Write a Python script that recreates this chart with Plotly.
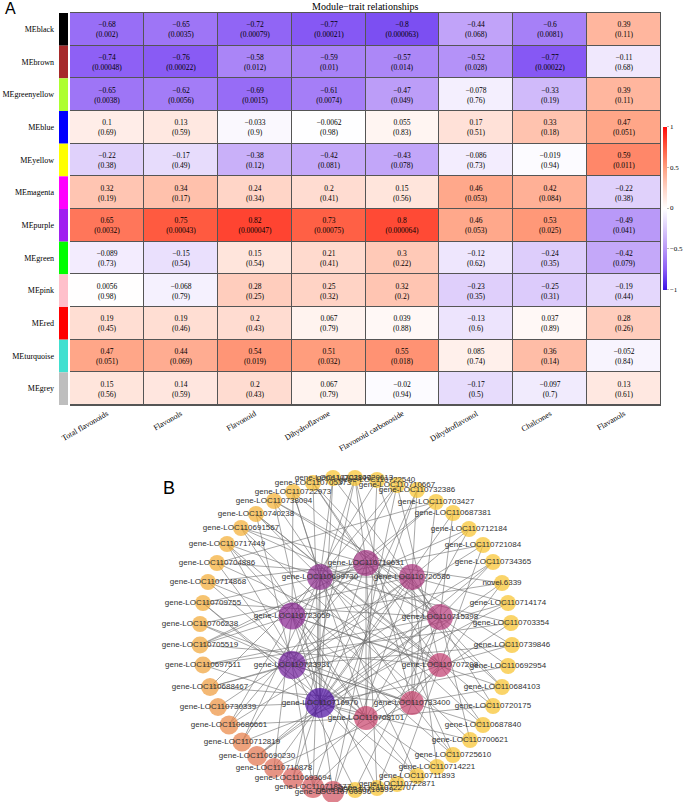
import numpy as np
import plotly.graph_objects as go

W, H = 685, 802

# ---------------- Panel A data ----------------
traits = ["Total flavonoids", "Flavonols", "Flavonoid", "Dihydroflavone",
          "Flavonoid carbonoside", "Dihydroflavonol", "Chalcones", "Flavanols"]
modules = ["MEblack", "MEbrown", "MEgreenyellow", "MEblue", "MEyellow", "MEmagenta",
           "MEpurple", "MEgreen", "MEpink", "MEred", "MEturquoise", "MEgrey"]
module_colors = ["#000000", "#A52A2A", "#ADFF2F", "#0000FF", "#FFFF00", "#FF00FF",
                 "#A020F0", "#00FF00", "#FFC0CB", "#FF0000", "#40E0D0", "#BEBEBE"]
cor = [
    [-0.68, -0.65, -0.72, -0.77, -0.8, -0.44, -0.6, 0.39],
    [-0.74, -0.76, -0.58, -0.59, -0.57, -0.52, -0.77, -0.11],
    [-0.65, -0.62, -0.69, -0.61, -0.47, -0.078, -0.33, 0.39],
    [0.1, 0.13, -0.033, -0.0062, 0.055, 0.17, 0.33, 0.47],
    [-0.22, -0.17, -0.38, -0.42, -0.43, -0.086, -0.019, 0.59],
    [0.32, 0.34, 0.24, 0.2, 0.15, 0.46, 0.42, -0.22],
    [0.65, 0.75, 0.82, 0.73, 0.80, 0.46, 0.53, -0.49],
    [-0.089, -0.15, 0.15, 0.21, 0.3, -0.12, -0.24, -0.42],
    [0.0056, -0.068, 0.28, 0.25, 0.32, -0.23, -0.25, -0.19],
    [0.19, 0.19, 0.2, 0.067, 0.039, -0.13, 0.037, 0.28],
    [0.47, 0.44, 0.54, 0.51, 0.55, 0.085, 0.36, -0.052],
    [0.15, 0.14, 0.2, 0.067, -0.02, -0.17, -0.097, 0.13],
]
pval = [
    [0.002, 0.0035, 0.00079, 0.00021, 0.000063, 0.068, 0.0081, 0.11],
    [0.00048, 0.00022, 0.012, 0.01, 0.014, 0.028, 0.00022, 0.68],
    [0.0038, 0.0056, 0.0015, 0.0074, 0.049, 0.76, 0.19, 0.11],
    [0.69, 0.59, 0.9, 0.98, 0.83, 0.51, 0.18, 0.051],
    [0.38, 0.49, 0.12, 0.081, 0.078, 0.73, 0.94, 0.011],
    [0.19, 0.17, 0.34, 0.41, 0.56, 0.053, 0.084, 0.38],
    [0.0032, 0.00043, 0.000047, 0.00075, 0.000064, 0.053, 0.025, 0.041],
    [0.73, 0.54, 0.54, 0.41, 0.22, 0.62, 0.35, 0.079],
    [0.98, 0.79, 0.25, 0.32, 0.2, 0.35, 0.31, 0.44],
    [0.45, 0.46, 0.43, 0.79, 0.88, 0.6, 0.89, 0.26],
    [0.051, 0.069, 0.019, 0.032, 0.018, 0.74, 0.14, 0.84],
    [0.56, 0.59, 0.43, 0.79, 0.94, 0.5, 0.7, 0.61],
]

# ---------------- Panel B data ----------------
outer_names = [
    "gene-LOC110705373", "gene-LOC110722973", "gene-LOC110738094", "gene-LOC110740238",
    "gene-LOC110691567", "gene-LOC110717449", "gene-LOC110704886", "gene-LOC110714868",
    "gene-LOC110709755", "gene-LOC110706238", "gene-LOC110705519", "gene-LOC110697511",
    "gene-LOC110688467", "gene-LOC110730339", "gene-LOC110686661", "gene-LOC110712819",
    "gene-LOC110690230", "gene-LOC110710878", "gene-LOC110693694", "gene-LOC110718577",
    "gene-LOC110700996",
    "gene-LOC110710599", "gene-LOC110722707", "gene-LOC110722871", "gene-LOC110711893",
    "gene-LOC110714221", "gene-LOC110725610", "gene-LOC110700621", "gene-LOC110687840",
    "gene-LOC110720175", "gene-LOC110684103", "gene-LOC110692954", "gene-LOC110739846",
    "gene-LOC110703354", "gene-LOC110714174", "novel.6339", "gene-LOC110734365",
    "gene-LOC110721084", "gene-LOC110712184", "gene-LOC110687381", "gene-LOC110703427",
    "gene-LOC110732386", "gene-LOC110710667", "gene-LOC110722540", "gene-LOC110720613",
    "gene-LOC110703840",
]
outer_x = [313, 293, 274, 256, 241, 227, 217, 208, 203, 200, 200, 203, 210, 218, 229, 242,
           257, 274, 293, 313, 333,
           355, 377, 397, 417, 437, 453, 470, 483, 493, 502, 508, 512, 511, 508, 502, 493,
           483, 469, 453, 436, 417, 397, 377, 355, 333]
outer_y = [483, 492, 501, 514, 528, 544, 563, 582, 603, 624, 645, 665, 687, 707, 725, 742,
           756, 768, 778, 787, 792,
           790, 788, 784, 776, 767, 755, 740, 725, 706, 687, 666, 645, 623, 603, 583, 562,
           545, 529, 513, 502, 490, 485, 480, 478, 478]

hub_names = ["gene-LOC110699730", "gene-LOC110719631", "gene-LOC110720586",
             "gene-LOC110715398", "gene-LOC110707208", "gene-LOC110733400",
             "gene-LOC110708101", "gene-LOC110716970", "gene-LOC110723931",
             "gene-LOC110723059"]
hub_x = [320, 366, 412, 440, 440, 412, 366, 320, 292, 292]
hub_y = [577, 563, 577, 617, 665, 703, 718, 703, 665, 616]

# edges: hub index -> outer node indices
hub_links = [
    [1, 3, 5, 8, 12, 15, 19, 24, 28, 33, 37, 42, 45],
    [0, 4, 7, 10, 14, 18, 22, 26, 30, 35, 40, 44],
    [2, 6, 9, 13, 17, 20, 25, 29, 34, 38, 41, 43],
    [1, 4, 8, 11, 16, 21, 27, 31, 36, 39, 45],
    [0, 3, 6, 10, 15, 19, 23, 28, 32, 37, 42],
    [2, 5, 9, 12, 17, 22, 26, 30, 35, 40, 44],
    [1, 4, 7, 11, 14, 18, 24, 29, 33, 38, 43],
    [0, 2, 5, 8, 13, 16, 20, 23, 27, 31, 34, 36, 39, 41, 45],
    [3, 6, 9, 12, 15, 19, 21, 25, 28, 32, 37, 42, 44],
    [1, 5, 7, 10, 14, 17, 22, 26, 30, 35, 40, 43],
]
hub_hub = [(0, 1), (0, 4), (0, 7), (1, 3), (1, 6), (2, 5), (2, 8), (3, 7),
           (4, 9), (5, 8), (6, 9), (7, 9), (0, 2), (3, 5)]
outer_outer = [(14, 36), (10, 38), (2, 32), (6, 40), (20, 42), (12, 34), (18, 44),
               (0, 30), (4, 27), (8, 24), (16, 35), (11, 33), (3, 29), (19, 41)]

# ---------------- styles ----------------
outer_colors = ["#F7BC2A", "#F5B52C", "#F4AF2F", "#F4AE2F", "#F3AD30", "#F3AC30",
                "#F3AB31", "#F2AA31", "#F2A932", "#F2A833", "#F1A535", "#F0A137",
                "#EE9A39", "#EC903C", "#E98540", "#E57B45", "#E1714A", "#DC6750",
                "#D85D56", "#D4555B", "#D04E5E"] + ["#F8C22A"] * 25
outer_sizes = [16] * 9 + [16, 17, 17, 18, 18, 19, 19, 20, 20, 21, 22, 22] + [16] * 25
hub_colors = ["#8B2A8B", "#9E2C7E", "#A8327A", "#B23779", "#C03A6D", "#C33D68",
              "#C7406A", "#4C0C9F", "#6E1B99", "#86208F"]
hub_sizes = [26, 26, 26, 26, 24, 24, 24, 30, 28, 27]

SERIF = "Liberation Serif, Times New Roman, serif"
SANS = "Liberation Sans, Arial, sans-serif"


def fmt(v):
    return np.format_float_positional(v, trim="-").replace("-", "\u2212")


text = [[f"{fmt(c)}<br>({fmt(p)})" for c, p in zip(rc, rp)] for rc, rp in zip(cor, pval)]

colorscale = [
    [0.0, "#3c14e6"], [0.125, "#8c5ef5"], [0.25, "#b897f8"], [0.375, "#dccbfb"],
    [0.5, "#ffffff"], [0.625, "#ffd3c5"], [0.75, "#ffa080"], [0.875, "#ff5a40"],
    [1.0, "#ff0a0a"],
]


def px(x):
    return x / W


def py(y):
    return 1 - y / H


fig = go.Figure()

fig.add_trace(go.Heatmap(
    z=cor, x=traits, y=modules, text=text, texttemplate="%{text}",
    textfont=dict(family=SERIF, size=7.5, color="#000"),
    colorscale=colorscale, zmin=-1, zmax=1, xgap=1, ygap=1,
    xaxis="x", yaxis="y",
    colorbar=dict(x=px(663), xanchor="left", y=py(208), yanchor="middle",
                  len=163 / H, lenmode="fraction", thickness=4, outlinewidth=0,
                  xpad=0, ypad=0,
                  tickvals=[-1, -0.5, 0, 0.5, 1],
                  ticktext=["\u22121", "\u22120.5", "0", "0.5", "1"],
                  ticks="outside", ticklen=2, tickcolor="#bbb",
                  tickfont=dict(family=SERIF, size=7, color="#000")),
))

fig.add_trace(go.Bar(
    x=[1] * len(modules), y=modules, orientation="h", width=1,
    marker=dict(color=module_colors, line=dict(width=0)),
    xaxis="x2", yaxis="y", showlegend=False, hoverinfo="skip",
))

# network edges
ex, ey = [], []
for h, links in enumerate(hub_links):
    for o in links:
        ex += [hub_x[h], outer_x[o], None]
        ey += [hub_y[h], outer_y[o], None]
for a, b in hub_hub:
    ex += [hub_x[a], hub_x[b], None]
    ey += [hub_y[a], hub_y[b], None]
for a, b in outer_outer:
    ex += [outer_x[a], outer_x[b], None]
    ey += [outer_y[a], outer_y[b], None]

fig.add_trace(go.Scatter(x=ex, y=ey, mode="lines",
                         line=dict(color="rgba(110,110,110,0.6)", width=1),
                         xaxis="x3", yaxis="y3", showlegend=False, hoverinfo="skip"))
fig.add_trace(go.Scatter(x=outer_x, y=outer_y, mode="markers",
                         marker=dict(color=outer_colors, size=outer_sizes, line=dict(width=0)),
                         xaxis="x3", yaxis="y3", showlegend=False, cliponaxis=False))
fig.add_trace(go.Scatter(x=hub_x, y=hub_y, mode="markers",
                         marker=dict(color=hub_colors, size=hub_sizes, line=dict(width=0)),
                         xaxis="x3", yaxis="y3", showlegend=False, cliponaxis=False))
fig.add_trace(go.Scatter(x=outer_x + hub_x, y=outer_y + hub_y, mode="text",
                         text=outer_names + hub_names, textposition="middle center",
                         textfont=dict(family=SANS, size=8, color="#333"),
                         xaxis="x3", yaxis="y3", showlegend=False, cliponaxis=False))

hm_dom_y = [py(405), py(13)]
fig.update_layout(
    width=W, height=H, autosize=False,
    margin=dict(l=0, r=0, t=0, b=0, autoexpand=False),
    paper_bgcolor="white", plot_bgcolor="rgba(0,0,0,0)",
    showlegend=False,
    xaxis=dict(domain=[px(70), px(661)], type="category", tickangle=-30,
               tickfont=dict(family=SERIF, size=8, color="#000"),
               showgrid=False, zeroline=False, ticks="", anchor="y", automargin=False,
               showline=True, mirror=True, linecolor="#555", linewidth=1),
    yaxis=dict(domain=hm_dom_y, type="category", autorange="reversed", automargin=False,
               anchor="x2", tickfont=dict(family=SERIF, size=8, color="#000"),
               showgrid=False, zeroline=False, ticks="", ticklabelstandoff=4),
    xaxis2=dict(domain=[px(59), px(68)], range=[0, 1], visible=False, anchor="y"),
    xaxis3=dict(domain=[0, 1], range=[0, W], visible=False, anchor="y3"),
    yaxis3=dict(domain=[0, py(465)], range=[H, 465], visible=False, anchor="x3"),
    shapes=[dict(type="rect", xref="x domain", yref="y domain", x0=0, x1=1, y0=0, y1=1,
                 fillcolor="#555", line=dict(width=0), layer="below")],
    annotations=[
        dict(text="Module\u2212trait relationships", x=px(365), y=py(7), xref="paper",
             yref="paper", showarrow=False, font=dict(family=SERIF, size=10, color="#000"),
             xanchor="center", yanchor="middle"),
        dict(text="A", x=px(3), y=py(8), xref="paper", yref="paper", showarrow=False,
             font=dict(family=SANS, size=16, color="#000"), xanchor="left", yanchor="middle"),
        dict(text="B", x=px(161), y=py(488), xref="paper", yref="paper", showarrow=False,
             font=dict(family=SANS, size=18, color="#000"), xanchor="left", yanchor="middle"),
    ],
)

fig.write_html("out.html", config={"displayModeBar": False},
               post_script="document.body.style.margin='0';document.body.style.overflow='hidden';")
